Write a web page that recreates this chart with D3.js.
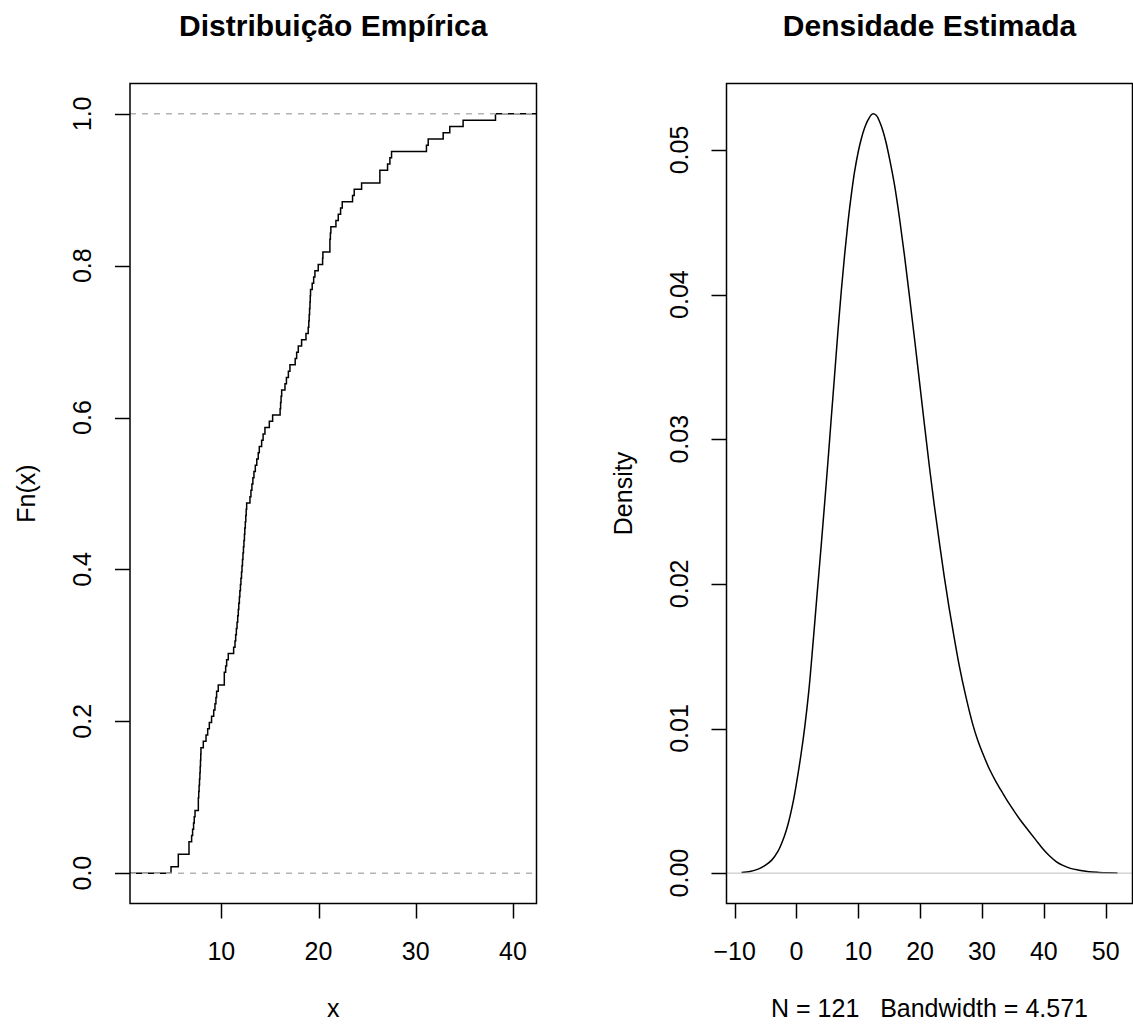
<!DOCTYPE html>
<html><head><meta charset="utf-8">
<script src="https://cdnjs.cloudflare.com/ajax/libs/d3/7.8.5/d3.min.js"></script>
<style>body{margin:0;background:#fff} svg{display:block}</style>
</head><body>
<svg id="c" width="1133" height="1025"></svg>
<script>
// ---- data ----
const sampleValues = [
4.83, 5.58, 5.58, 6.68, 6.68, 6.95, 7.05, 7.15, 7.22, 7.30,
7.64, 7.64, 7.68, 7.72, 7.76, 7.80, 7.83, 7.86, 7.89, 7.91,
8.15, 8.43, 8.60, 8.77, 9.00, 9.22, 9.35, 9.45, 9.52, 9.69,
10.31, 10.31, 10.45, 10.55, 10.72, 11.27, 11.41, 11.48, 11.55, 11.62,
11.69, 11.75, 11.80, 11.86, 11.91, 11.97, 12.02, 12.08, 12.13, 12.18,
12.23, 12.28, 12.33, 12.38, 12.42, 12.47, 12.52, 12.56, 12.61, 12.95,
13.05, 13.15, 13.25, 13.36, 13.50, 13.65, 13.80, 13.91, 14.15, 14.30,
14.49, 14.94, 15.28, 16.05, 16.10, 16.15, 16.21, 16.55, 16.70, 16.90,
17.06, 17.60, 17.75, 17.92, 18.26, 18.71, 18.94, 19.00, 19.04, 19.08,
19.12, 19.15, 19.18, 19.35, 19.50, 19.63, 19.97, 20.42, 20.45, 21.17,
21.17, 21.22, 21.27, 21.79, 22.03, 22.27, 22.44, 23.50, 23.67, 24.43,
26.31, 26.31, 27.10, 27.34, 27.51, 31.10, 31.28, 32.82, 33.50, 34.87,
38.20];
const ecdfXTicks = [10, 20, 30, 40];
const ecdfYTicks = [0, 0.2, 0.4, 0.6, 0.8, 1.0];

const densX = [-8.88, -7.5, -6.2, -5.0, -4.0, -3.0, -2.0, -1.35, -0.5, 0, 0.7, 1.34, 2.0, 2.68, 3.3, 4.03, 4.6, 5.1, 5.6, 6.18,
  6.7, 7.26, 7.8, 8.33, 8.9, 9.4, 10.0, 10.5, 11.0, 11.6, 12.3, 12.9, 13.5, 14.0, 14.5, 15.05, 15.85, 16.66, 17.47, 18.27,
  19.08, 19.89, 20.7, 21.5, 22.3, 23.1, 23.9, 24.7, 25.5, 26.3, 27.4, 28.5, 29.3, 30.1, 31.2, 32.3, 33.4, 34.4, 35.5, 36.5,
  37.6, 38.7, 39.8, 40.9, 42.0, 43.0, 44.3, 45.7, 47.3, 48.9, 50.4, 51.91];
const densY = [0.00005, 0.00012, 0.00028, 0.00055, 0.0009, 0.0015, 0.0025, 0.0034, 0.0050, 0.0062, 0.0081, 0.0101, 0.0126, 0.0159, 0.0191, 0.0228, 0.0258, 0.0285, 0.0313, 0.0345,
  0.0374, 0.0403, 0.0428, 0.0450, 0.0470, 0.0485, 0.0499, 0.0508, 0.0515, 0.0521, 0.0525, 0.0524, 0.0519, 0.0513, 0.0505, 0.0494, 0.0476, 0.0453, 0.0427, 0.0399,
  0.0370, 0.0340, 0.0310, 0.0281, 0.0254, 0.0229, 0.0205, 0.0183, 0.0163, 0.0144, 0.0122, 0.0103, 0.0092, 0.0083, 0.0072, 0.0063, 0.0055, 0.0048, 0.0041, 0.0035,
  0.0029, 0.0023, 0.0017, 0.0012, 0.0008, 0.00055, 0.00033, 0.0002, 0.0001, 0.00005, 0.00002, 0.00001];
const densXTicks = [-10, 0, 10, 20, 30, 40, 50];
const densYTicks = [0, 0.01, 0.02, 0.03, 0.04, 0.05];
const sampleN = 121;
const bandwidth = "4.571";
const titles = ["Distribuição Empírica", "Densidade Estimada"];
const xLabels = ["x", "N = " + sampleN + "   Bandwidth = " + bandwidth];
const yLabels = ["Fn(x)", "Density"];

(function () {
  // ---- layout ----
  const svg = d3.select("#c");
  const FONT = "'Liberation Sans', Arial, Helvetica, sans-serif";
  const plotTop = 83.5, plotBottom = 903.5;
  const boxes = [[130, 536.5], [726.5, 1132.5]];
  const TICK = 15, LW = 1.5;
  const pad = (lo, hi) => { const r = hi - lo; return [lo - 0.04 * r, hi + 0.04 * r]; };

  function panel(i, xs, ys, xTicks, yTicks, yFmt) {
    const [x0, x1] = boxes[i];
    const g = svg.append("g");
    svg.append("clipPath").attr("id", "clip" + i).append("rect")
      .attr("x", x0).attr("y", plotTop).attr("width", x1 - x0).attr("height", plotBottom - plotTop);
    xTicks.forEach(t => {
      const px = Math.round(xs(t)) + 0.5;
      g.append("line").attr("x1", px).attr("x2", px).attr("y1", plotBottom).attr("y2", plotBottom + TICK)
        .attr("stroke", "#000").attr("stroke-width", LW);
      g.append("text").attr("x", xs(t)).attr("y", 960).attr("text-anchor", "middle")
        .attr("font-family", FONT).attr("font-size", 25).text(String(t).replace("-", "\u2212"));
    });
    yTicks.forEach(t => {
      const py = Math.round(ys(t)) + 0.5;
      g.append("line").attr("x1", x0 - TICK).attr("x2", x0).attr("y1", py).attr("y2", py)
        .attr("stroke", "#000").attr("stroke-width", LW);
      g.append("text").attr("transform", `translate(${x0 - 39},${ys(t)}) rotate(-90)`)
        .attr("text-anchor", "middle").attr("font-family", FONT).attr("font-size", 25).text(yFmt(t));
    });
    const cx = (x0 + x1) / 2;
    g.append("text").attr("x", cx).attr("y", 36).attr("text-anchor", "middle")
      .attr("font-family", FONT).attr("font-size", 30).attr("font-weight", "bold").text(titles[i]);
    g.append("text").attr("x", cx).attr("y", 1017).attr("text-anchor", "middle")
      .attr("font-family", FONT).attr("font-size", 25).style("white-space", "pre").text(xLabels[i]);
    g.append("text").attr("transform", `translate(${x0 - 95},${(plotTop + plotBottom) / 2}) rotate(-90)`)
      .attr("text-anchor", "middle").attr("font-family", FONT).attr("font-size", 25).text(yLabels[i]);
    return g;
  }

  // ---- left: ECDF ----
  {
    const n = sampleValues.length;
    const lo = d3.min(sampleValues), hi = d3.max(sampleValues);
    const knots = Array.from(new Set(sampleValues));
    const dr = Math.max(0.08 * (hi - lo), d3.median(d3.pairs(knots, (a, b) => b - a)));
    const xlim = [lo - dr, hi + dr];
    const xs = d3.scaleLinear().domain(pad(xlim[0], xlim[1])).range(boxes[0]);
    const ys = d3.scaleLinear().domain(pad(0, 1)).range([plotBottom, plotTop]);
    panel(0, xs, ys, ecdfXTicks, ecdfYTicks, d3.format(".1f"));
    const pts = [[xlim[0] - dr, 0]].concat(sampleValues.map((v, k) => [v, (k + 1) / n]), [[xlim[1] + dr, 1]]);
    const line = d3.line().x(d => xs(d[0])).y(d => ys(d[1])).curve(d3.curveStepAfter);
    const pg = svg.append("g").attr("clip-path", "url(#clip0)");
    pg.append("path").attr("d", line(pts)).attr("fill", "none").attr("stroke", "#000").attr("stroke-width", LW);
    [0, 1].forEach(h => {
      pg.append("line").attr("x1", boxes[0][0]).attr("x2", boxes[0][1]).attr("y1", ys(h)).attr("y2", ys(h))
        .attr("stroke", "#b3b3b3").attr("stroke-width", LW).attr("stroke-dasharray", "6,6");
    });
    svg.append("rect").attr("x", boxes[0][0]).attr("y", plotTop).attr("width", boxes[0][1] - boxes[0][0]).attr("height", plotBottom - plotTop)
      .attr("fill", "none").attr("stroke", "#000").attr("stroke-width", LW);
  }

  // ---- right: density ----
  {
    const xs = d3.scaleLinear().domain(pad(d3.min(densX), d3.max(densX))).range(boxes[1]);
    const ys = d3.scaleLinear().domain(pad(0, d3.max(densY))).range([plotBottom, plotTop]);
    panel(1, xs, ys, densXTicks, densYTicks, d3.format(".2f"));
    const pg = svg.append("g").attr("clip-path", "url(#clip1)");
    const line = d3.line().x((d, k) => xs(densX[k])).y(d => ys(d)).curve(d3.curveCatmullRom.alpha(0.5));
    pg.append("path").attr("d", line(densY)).attr("fill", "none").attr("stroke", "#000").attr("stroke-width", LW);
    pg.append("line").attr("x1", boxes[1][0]).attr("x2", boxes[1][1]).attr("y1", ys(0)).attr("y2", ys(0))
      .attr("stroke", "#bebebe").attr("stroke-width", 1);
    svg.append("rect").attr("x", boxes[1][0]).attr("y", plotTop).attr("width", boxes[1][1] - boxes[1][0]).attr("height", plotBottom - plotTop)
      .attr("fill", "none").attr("stroke", "#000").attr("stroke-width", LW);
  }
})();
</script>
</body></html>
